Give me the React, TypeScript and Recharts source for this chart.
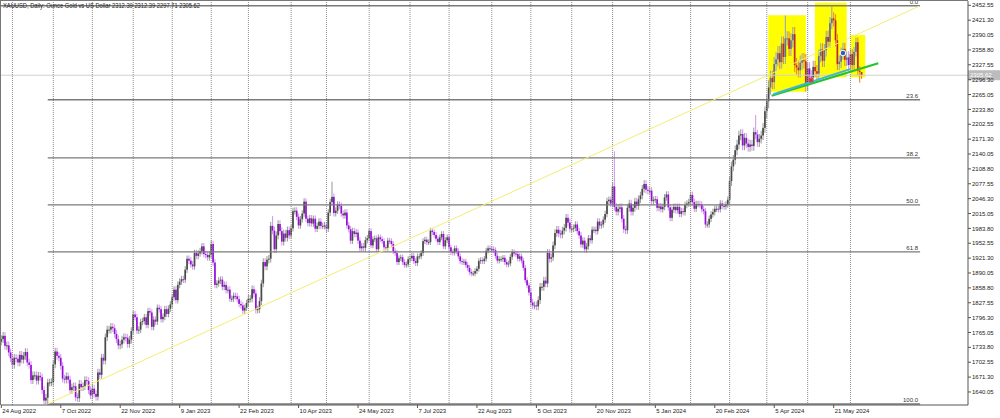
import React from 'react';
import { ComposedChart, Bar, Scatter, XAxis, YAxis, ReferenceLine, ReferenceArea } from 'recharts';

// ---- daily closes, month by month ----
const aug22 = [1751, 1758, 1737, 1738, 1723, 1711];
const sep22 = [1697, 1712, 1710, 1702, 1718, 1708, 1716, 1724, 1702, 1697, 1665, 1675, 1675, 1664, 1674, 1671, 1644, 1622, 1628, 1660, 1660, 1661];
const oct22 = [1698, 1725, 1716, 1712, 1695, 1668, 1666, 1673, 1666, 1644, 1650, 1652, 1629, 1627, 1657, 1650, 1652, 1665, 1663, 1644, 1633];
const nov22 = [1647, 1636, 1630, 1681, 1676, 1712, 1706, 1755, 1771, 1771, 1777, 1774, 1762, 1751, 1738, 1740, 1750, 1755, 1754, 1741, 1750, 1768];
const dec22 = [1803, 1797, 1769, 1771, 1787, 1789, 1797, 1781, 1810, 1807, 1777, 1792, 1788, 1817, 1814, 1793, 1798, 1814, 1804, 1815, 1824];
const jan23 = [1839, 1855, 1833, 1865, 1872, 1877, 1876, 1897, 1920, 1916, 1908, 1904, 1932, 1926, 1931, 1936, 1946, 1930, 1928, 1923, 1928];
const feb23 = [1951, 1912, 1865, 1868, 1874, 1876, 1861, 1865, 1854, 1855, 1836, 1836, 1842, 1841, 1835, 1825, 1822, 1811, 1817, 1827];
const mar23 = [1836, 1836, 1856, 1847, 1813, 1814, 1831, 1868, 1913, 1904, 1918, 1920, 1989, 1979, 1940, 1969, 1993, 1978, 1956, 1973, 1964, 1980, 1969];
const apr23 = [1984, 2020, 2021, 2008, 1990, 2003, 2015, 2040, 2004, 1995, 2005, 1994, 2004, 1983, 1989, 1998, 1989, 1989, 1990];
const may23 = [1983, 2017, 2039, 2050, 2016, 2021, 2034, 2031, 2015, 2011, 2017, 1990, 1982, 1958, 1978, 1972, 1975, 1958, 1942, 1946, 1943, 1959, 1963];
const jun23 = [1978, 1948, 1961, 1963, 1940, 1965, 1961, 1957, 1944, 1943, 1958, 1957, 1951, 1936, 1932, 1913, 1921, 1923, 1913, 1907, 1908, 1919];
const jul23 = [1921, 1926, 1915, 1911, 1925, 1925, 1932, 1957, 1960, 1955, 1955, 1979, 1976, 1970, 1962, 1955, 1965, 1972, 1946, 1959, 1965];
const aug23 = [1944, 1934, 1933, 1942, 1936, 1925, 1915, 1913, 1914, 1907, 1901, 1892, 1889, 1889, 1894, 1899, 1915, 1917, 1915, 1920, 1937, 1942, 1940];
const sep23 = [1940, 1938, 1926, 1916, 1919, 1919, 1922, 1913, 1908, 1910, 1924, 1934, 1931, 1930, 1920, 1925, 1916, 1901, 1875, 1864, 1849];
const oct23 = [1828, 1822, 1822, 1820, 1833, 1861, 1861, 1874, 1868, 1932, 1920, 1923, 1948, 1974, 1981, 1973, 1971, 1979, 1985, 2006, 1996, 1983];
const nov23 = [1983, 1985, 1992, 1978, 1969, 1950, 1958, 1940, 1946, 1963, 1959, 1981, 1981, 1978, 1998, 1990, 1992, 2002, 2014, 2041, 2044, 2036];
const dec23 = [2072, 2029, 2019, 2025, 2028, 2004, 1982, 1980, 2027, 2036, 2019, 2027, 2040, 2031, 2045, 2053, 2067, 2077, 2065, 2063];
const jan24 = [2063, 2041, 2044, 2045, 2027, 2030, 2024, 2029, 2049, 2055, 2028, 2006, 2023, 2029, 2022, 2029, 2014, 2020, 2018, 2033, 2036, 2039];
const feb24 = [2054, 2039, 2025, 2035, 2035, 2034, 2024, 2020, 1992, 1992, 2004, 2013, 2018, 2025, 2025, 2024, 2036, 2031, 2030, 2034, 2044];
const mar24 = [2083, 2114, 2128, 2148, 2160, 2179, 2182, 2158, 2174, 2162, 2155, 2160, 2157, 2186, 2181, 2165, 2172, 2179, 2195, 2230];
const apr24 = [2251, 2280, 2300, 2291, 2329, 2339, 2352, 2333, 2372, 2344, 2383, 2383, 2361, 2379, 2392, 2327, 2322, 2316, 2332, 2337, 2335, 2286];
const may24 = [2320, 2303, 2301, 2323, 2314, 2309, 2346, 2360, 2336, 2358, 2386, 2376, 2415, 2425, 2421, 2379, 2329, 2334, 2351, 2361, 2338, 2343, 2327];
const jun24 = [2350, 2327, 2355, 2375, 2315, 2312.39, 2305.62];

const monthCloses = [aug22, sep22, oct22, nov22, dec22, jan23, feb23, mar23, apr23, may23, jun23, jul23, aug23, sep23, oct23, nov23, dec23, jan24, feb24, mar24, apr24, may24, jun24];
// typical wick length beyond the body, per month ($)
const monthWick = [8, 8, 8, 8, 7, 7, 7, 8, 7, 7, 6, 6, 6, 6, 8, 7, 8, 7, 7, 10, 15, 13, 10];
const firstOpen = 1746;

// notable wick extremes [bar, price]
const highOverride: [number, number][] = [[146, 2009.7], [178, 2081.8], [330, 2146], [406, 2222], [422, 2431], [447, 2450], [463, 2312.39]];
const lowOverride: [number, number][] = [[25, 1614.85], [462, 2290], [463, 2297.71]];

// axis labels
const labelBars = [0, 32, 64, 96, 128, 160, 192, 224, 256, 288, 320, 352, 384, 416, 448];
const labelText = ['24 Aug 2022', '7 Oct 2022', '22 Nov 2022', '9 Jan 2023', '22 Feb 2023', '10 Apr 2023', '24 May 2023', '7 Jul 2023', '22 Aug 2023', '5 Oct 2023', '20 Nov 2023', '5 Jan 2024', '20 Feb 2024', '5 Apr 2024', '21 May 2024'];
const yTicks = [1640.05, 1671.3, 1702.55, 1733.8, 1765.05, 1796.3, 1827.55, 1858.8, 1890.05, 1921.3, 1952.55, 1983.8, 2015.05, 2046.3, 2077.55, 2108.8, 2140.05, 2171.3, 2202.55, 2233.8, 2265.05, 2296.3, 2327.55, 2358.8, 2390.05, 2421.3, 2452.55];

// drawn objects
const fibLow = 1614.85;
const fibHigh = 2451.5;
const fibLevels = [0, 23.6, 38.2, 50, 61.8, 100];
const fibLabels = ['0.0', '23.6', '38.2', '50.0', '61.8', '100.0'];
const fibStartBar = 25;
const fibEndBar = 494.5;
const fibDiagonal = [{ x: 25, y: 1614.85 }, { x: 494.1, y: 2451 }];
const neckGreen = [{ x: 414.6, y: 2262.6 }, { x: 472.0, y: 2330.7 }];
const neckCyan = [{ x: 415.5, y: 2265.5 }, { x: 456.8, y: 2318.5 }];
const yellowBoxes = [
  { x1: 412.8, x2: 433.0, y1: 2271, y2: 2431.7 },
  { x1: 437.9, x2: 455.0, y1: 2301.3, y2: 2458 },
  { x1: 457.2, x2: 465.0, y1: 2301.3, y2: 2390 },
];
const redMark = [{ i: 435.8, p: 2295.6 }];
const blueMark = [{ i: 453, p: 2352.3 }];
const lastPrice = 2305.62;

const X_MIN = -0.16;
const X_MAX = 520.29;
const Y_MIN = 1612.67;
const Y_MAX = 2461.59;

type Candle = { i: number; open: number; high: number; low: number; close: number; range: [number, number] };
const candles: Candle[] = [];
const monthStarts: number[] = [];
(() => {
  let prev = firstOpen;
  let idx = 0;
  monthCloses.forEach((arr, m) => {
    monthStarts.push(idx);
    arr.forEach((c) => {
      const o = prev;
      let h = Math.max(o, c) + monthWick[m];
      let l = Math.min(o, c) - monthWick[m];
      const ho = highOverride.find((e) => e[0] === idx);
      const lo = lowOverride.find((e) => e[0] === idx);
      if (ho) h = ho[1];
      if (lo) l = lo[1];
      candles.push({ i: idx, open: o, high: h, low: l, close: c, range: [l, h] });
      prev = c;
      idx++;
    });
  });
})();
const gridBars = monthStarts.slice(1);
const last = candles[candles.length - 1];
const header = `XAUUSD, Daily:  Ounce Gold vs US Dollar  ${last.open.toFixed(2)} ${last.high.toFixed(2)} ${last.low.toFixed(2)} ${last.close.toFixed(2)}`;
const fibPrice = (lv: number) => fibHigh - ((fibHigh - fibLow) * lv) / 100;
const fibLabelPts = fibLevels.map((lv, k) => ({ i: 493.4, p: fibPrice(lv), t: fibLabels[k] }));

const FONT = 'Liberation Sans, Arial, sans-serif';

const CandleShape = (props: any) => {
  const { x, y, width, height, payload } = props;
  if (!payload || x == null || y == null) return null;
  const { open, close, high, low, i } = payload;
  const top = Math.min(y, y + height);
  const bot = Math.max(y, y + height);
  const k = high - low > 0 ? (bot - top) / (high - low) : 0;
  const yOf = (p: number) => top + (high - p) * k;
  const cx = x + width / 2;
  const bull = close >= open;
  const mid = (open + close) / 2;
  const inBox = yellowBoxes.some((b) => i >= b.x1 && i <= b.x2 && mid >= b.y1 && mid <= b.y2);
  let body: string, wick: string;
  if (inBox) {
    body = bull ? '#66718a' : '#c0262b';
    wick = bull ? '#9aa6c0' : '#e8902a';
  } else {
    body = bull ? '#4a4a4a' : '#9810d8';
    wick = bull ? '#a0a0a0' : '#d49ef0';
  }
  const bTop = yOf(Math.max(open, close));
  const bBot = yOf(Math.min(open, close));
  return (
    <g>
      <line x1={cx} x2={cx} y1={top} y2={bot} stroke={wick} strokeWidth={1.1} />
      <rect x={cx - 0.85} width={1.7} y={bTop} height={Math.max(1, bBot - bTop)} fill={body} />
    </g>
  );
};

const DateTick = (props: any) => {
  const { x, y, payload } = props;
  const idx = labelBars.indexOf(payload.value);
  return (
    <text x={x + 1} y={y + 3} fontSize={6} fontFamily={FONT} fill="#222" textAnchor="start">
      {labelText[idx]}
    </text>
  );
};

const PriceBox = (props: any) => {
  const vb = props.viewBox || {};
  const x0 = (vb.x || 0) + (vb.width || 0);
  const y0 = vb.y || 0;
  return (
    <g>
      <rect x={x0} y={y0 - 5} width={32} height={10} fill="#bcbcbc" />
      <text x={x0 + 2} y={y0 + 2.2} fontSize={6} fontFamily={FONT} fill="#ffffff">
        {lastPrice.toFixed(2)}
      </text>
    </g>
  );
};

const FibText = (p: any) => (
  <text x={p.cx} y={p.cy - 2} textAnchor="end" fontSize={6} fontFamily={FONT} fill="#333">
    {p.payload.t}
  </text>
);

const RedStar = (p: any) => (
  <g stroke="#e0302a" strokeWidth={1.2}>
    <line x1={p.cx - 2.5} x2={p.cx + 2.5} y1={p.cy} y2={p.cy} />
    <line x1={p.cx} x2={p.cx} y1={p.cy - 2.5} y2={p.cy + 2.5} />
    <line x1={p.cx - 2} x2={p.cx + 2} y1={p.cy - 2} y2={p.cy + 2} />
    <line x1={p.cx - 2} x2={p.cx + 2} y1={p.cy + 2} y2={p.cy - 2} />
  </g>
);

const BlueDot = (p: any) => <circle cx={p.cx} cy={p.cy} r={2.8} fill="#2a5fb8" stroke="#ffffff" strokeWidth={1} />;

export default function App() {
  return (
    <div style={{ position: 'absolute', left: 0, top: 0, width: 1000, height: 418, background: '#ffffff' }}>
      <ComposedChart width={1000} height={418} data={candles} margin={{ top: 1, right: 0, bottom: 0, left: 1 }}>
        <XAxis
          type="number"
          dataKey="i"
          domain={[X_MIN, X_MAX]}
          allowDataOverflow
          ticks={labelBars}
          interval={0}
          height={13}
          tickSize={3}
          tickMargin={2}
          tickLine={{ stroke: '#555' }}
          axisLine={{ stroke: '#555' }}
          tick={<DateTick />}
        />
        <YAxis
          type="number"
          orientation="right"
          width={32}
          domain={[Y_MIN, Y_MAX]}
          allowDataOverflow
          ticks={yTicks}
          interval={0}
          tickSize={3}
          tickMargin={1}
          tickLine={{ stroke: '#555' }}
          axisLine={{ stroke: '#555' }}
          tick={{ fontSize: 6, fill: '#222', fontFamily: FONT }}
          tickFormatter={(v: number) => v.toFixed(2)}
        />
        {yellowBoxes.map((b, k) => (
          <ReferenceArea key={'box' + k} x1={b.x1} x2={b.x2} y1={b.y1} y2={b.y2} fill="#ffff00" fillOpacity={1} stroke="none" ifOverflow="hidden" />
        ))}
        {gridBars.map((b) => (
          <ReferenceLine key={'g' + b} x={b} stroke="#8c8c8c" strokeDasharray="1 1" />
        ))}
        <ReferenceLine y={lastPrice} stroke="#d0d0d0" label={<PriceBox />} />
        {fibLevels.map((lv) => (
          <ReferenceLine
            key={'fib' + lv}
            segment={[{ x: lv === 0 ? X_MIN : fibStartBar, y: fibPrice(lv) }, { x: fibEndBar, y: fibPrice(lv) }]}
            stroke="#7a7a7a"
            strokeWidth={1.4}
            ifOverflow="visible"
          />
        ))}
        <ReferenceLine segment={fibDiagonal} stroke="#f4ee70" strokeWidth={1} ifOverflow="visible" />
        <Bar dataKey="range" barSize={2} shape={<CandleShape />} isAnimationActive={false} />
        <ReferenceLine segment={neckGreen} stroke="#25c425" strokeWidth={2} ifOverflow="visible" />
        <ReferenceLine segment={neckCyan} stroke="#3fb4e0" strokeWidth={2} ifOverflow="visible" />
        <Scatter data={fibLabelPts} dataKey="p" shape={FibText} isAnimationActive={false} />
        <Scatter data={redMark} dataKey="p" shape={RedStar} isAnimationActive={false} />
        <Scatter data={blueMark} dataKey="p" shape={BlueDot} isAnimationActive={false} />
      </ComposedChart>
      <div
        style={{
          position: 'absolute', left: 0, top: 0, width: 968, height: 405, boxSizing: 'border-box',
          borderLeft: '1px solid #777', borderTop: '1px solid #777', pointerEvents: 'none',
        }}
      />
      <svg width={260} height={10} style={{ position: 'absolute', left: 0, top: 0 }}>
        <text x={3} y={7.5} fontSize={6.5} fontFamily={FONT} fill="#222" textLength={197} lengthAdjust="spacingAndGlyphs">
          {header}
        </text>
      </svg>
    </div>
  );
}
